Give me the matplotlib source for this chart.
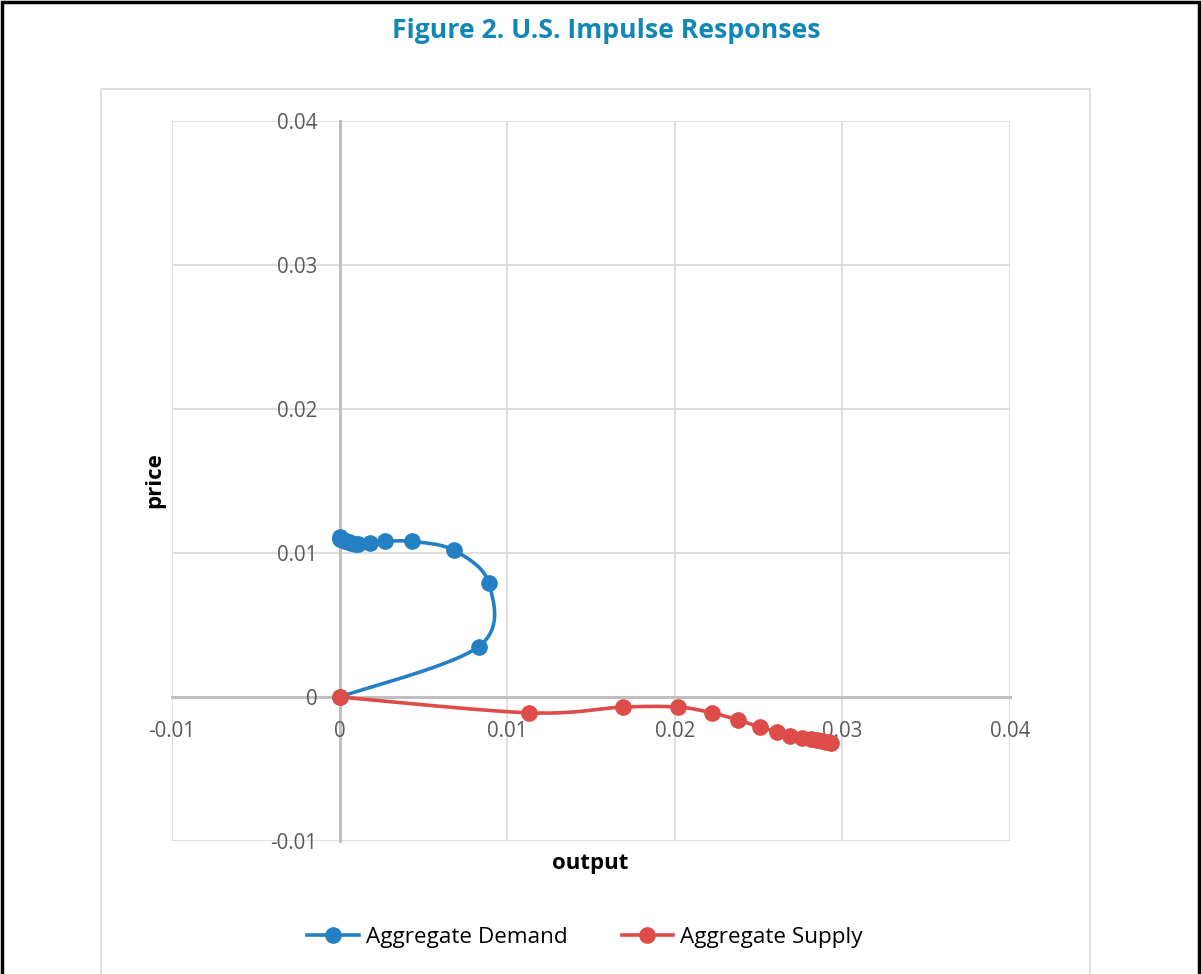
import numpy as np
import matplotlib
matplotlib.use("Agg")
import matplotlib.pyplot as plt
from matplotlib.patches import Rectangle
from matplotlib.lines import Line2D

plt.rcParams['font.family'] = ['Open Sans', 'DejaVu Sans']

# ---- data ----
demand_output = [0.0, 0.0083, 0.0089, 0.0068, 0.0043, 0.0027, 0.0018, 0.0011, 0.0009,
                 0.0007, 0.00055, 0.0004, 0.0003, 0.0002, 0.0001, 0.00004, 0.0]
demand_price = [0.0, 0.0035, 0.0079, 0.0102, 0.0108, 0.0108, 0.0107, 0.0106, 0.01065,
                0.0107, 0.01075, 0.0108, 0.01085, 0.0109, 0.01095, 0.0110, 0.0111]
supply_output = [0.0, 0.0113, 0.0169, 0.0202, 0.0222, 0.0238, 0.0251, 0.0261, 0.0269,
                 0.0276, 0.0281, 0.0285, 0.0288, 0.0290, 0.0292, 0.0293]
supply_price = [0.0, -0.0011, -0.0007, -0.0007, -0.0011, -0.0016, -0.0021, -0.0024, -0.0027,
                -0.00285, -0.0029, -0.00298, -0.00305, -0.0031, -0.00315, -0.0032]
x_ticks = [-0.01, 0.0, 0.01, 0.02, 0.03, 0.04]
x_labels = ['-0.01', '0', '0.01', '0.02', '0.03', '0.04']
y_ticks = [-0.01, 0.0, 0.01, 0.02, 0.03, 0.04]
y_labels = ['-0.01', '0', '0.01', '0.02', '0.03', '0.04']
series_names = ['Aggregate Demand', 'Aggregate Supply']
colors = ['#2580C3', '#DE4C4A']


def smooth(xs, ys, n=20):
    """Excel-like smooth line through the points (Catmull-Rom Bezier)."""
    p = np.column_stack([xs, ys]).astype(float)
    out = [p[0]]
    for i in range(len(p) - 1):
        p0 = p[i - 1] if i > 0 else p[i]
        p1, p2 = p[i], p[i + 1]
        p3 = p[i + 2] if i + 2 < len(p) else p[i + 1]
        c1 = p1 + (p2 - p0) / 6.0
        c2 = p2 - (p3 - p1) / 6.0
        t = np.linspace(0, 1, n)[1:, None]
        seg = ((1 - t) ** 3) * p1 + 3 * ((1 - t) ** 2) * t * c1 + 3 * (1 - t) * t ** 2 * c2 + t ** 3 * p2
        out.extend(seg)
    out = np.array(out)
    return out[:, 0], out[:, 1]


fig = plt.figure(figsize=(12.01, 9.74), dpi=100)
fig.patch.set_facecolor('white')

# outer page border and chart frame
fig.add_artist(Rectangle((0.0015, -0.01), 0.997, 1.0075, transform=fig.transFigure,
                         fill=False, edgecolor='black', linewidth=2.5))
fig.add_artist(Rectangle((101 / 1201, -0.01), (1090 - 101) / 1201, 1 - 89 / 974 + 0.01,
                         transform=fig.transFigure, fill=False, edgecolor='#d9d9d9', linewidth=1.2))

fig.text(606 / 1201, 1 - 31 / 974, 'Figure 2. U.S. Impulse Responses', ha='center', va='center',
         fontsize=19.2, fontweight='bold', color='#1187B6')

ax = fig.add_axes([172 / 1201, 1 - 841 / 974, (1010 - 172) / 1201, (841 - 121) / 974])
ax.set_xlim(-0.01, 0.04)
ax.set_ylim(-0.01, 0.04)

for v in x_ticks:
    if v != 0:
        ax.axvline(v, color='#d9d9d9', linewidth=1.2, zorder=0)
for v in y_ticks:
    if v != 0:
        ax.axhline(v, color='#d9d9d9', linewidth=1.2, zorder=0)

for s in ['top', 'right']:
    ax.spines[s].set_visible(False)
ax.spines['left'].set_position(('data', 0))
ax.spines['bottom'].set_position(('data', 0))
ax.spines['left'].set_color('#bfbfbf')
ax.spines['bottom'].set_color('#bfbfbf')
ax.spines['left'].set_linewidth(2.2)
ax.spines['bottom'].set_linewidth(2.2)
ax.spines['left'].set_zorder(1)
ax.spines['bottom'].set_zorder(1)

ax.set_xticks(x_ticks)
ax.set_xticklabels(x_labels)
ax.set_yticks(y_ticks)
ax.set_yticklabels(y_labels)
ax.tick_params(axis='both', length=0, labelsize=14.8, labelcolor='#595959')
ax.tick_params(axis='y', pad=16)
ax.tick_params(axis='x', pad=17)

for xs, ys, c, name in [(demand_output, demand_price, colors[0], series_names[0]),
                        (supply_output, supply_price, colors[1], series_names[1])]:
    sx, sy = smooth(xs, ys)
    ax.plot(sx, sy, color=c, linewidth=2.6, zorder=3, solid_capstyle='round')
    ax.plot(xs, ys, linestyle='none', marker='o', markersize=11, color=c, zorder=4)

fig.text(155 / 1201, 1 - 480 / 974, 'price', rotation=90, ha='center', va='center',
         fontsize=16, fontweight='bold', color='black')
fig.text(590 / 1201, 1 - 864 / 974, 'output', ha='center', va='center',
         fontsize=16, fontweight='bold', color='black')

handles = [Line2D([], [], color=c, linewidth=2.6, marker='o', markersize=11) for c in colors]
fig.legend(handles, series_names, loc='center', bbox_to_anchor=(585 / 1201, 1 - 937 / 974),
           ncol=2, frameon=False, fontsize=16.2, handlelength=2.3, handletextpad=0.3,
           columnspacing=2.4)

fig.savefig('out.png', dpi=100)
